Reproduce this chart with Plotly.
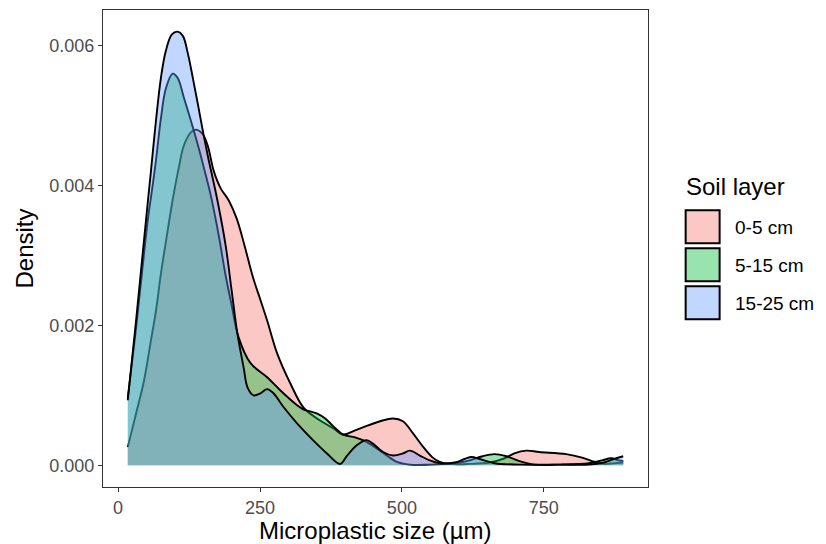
import plotly.graph_objects as go

# ---------------- data ----------------
layers = ["0-5 cm", "5-15 cm", "15-25 cm"]

size_0_5 = [17, 31.6, 45.6, 57.9, 66.7, 75.4, 86.0, 96.0, 107.0, 115.8, 128.1, 136.8,
            148.6, 157.9, 168.4, 180.7, 194.7, 208.8, 222.8, 236.8, 250.9, 262.6, 280.2,
            303.5, 326.3, 350.4, 378.9, 396.5, 417.5, 440.4, 461.4, 484.2, 501.8, 519.3,
            536.8, 554.4, 566.7, 584.2, 619.3, 654.4, 680.7, 698.2, 719.3, 742.1, 789.5,
            817.5, 835.1, 856.1, 873.7, 890]
dens_0_5 = [0.26, 0.74, 1.21, 1.79, 2.21, 2.74, 3.29, 3.79, 4.26, 4.57, 4.76, 4.80,
            4.74, 4.57, 4.21, 3.96, 3.79, 3.53, 3.14, 2.71, 2.36, 2.07, 1.60,
            1.17, 0.83, 0.67, 0.53, 0.44, 0.50, 0.57, 0.63, 0.67, 0.63, 0.46,
            0.27, 0.11, 0.05, 0.02, 0.02, 0.04, 0.10, 0.17, 0.21, 0.19, 0.16,
            0.11, 0.06, 0.02, 0.03, 0.04]

size_5_15 = [17, 31.6, 42.1, 52.6, 59.6, 66.7, 75.4, 84.2, 96.0, 104.7, 115.8, 128.1,
             139.8, 150.9, 163.2, 177.2, 189.5, 200.0, 212.3, 233.3, 262.6, 286.0, 315.3,
             326.3, 338.6, 350.9, 364.9, 378.9, 396.5, 417.5, 436.8, 452.6, 470.2, 491.2,
             514.0, 549.1, 575.4, 601.8, 619.3, 642.1, 663.2, 684.2, 707.0, 733.3, 777.2,
             829.8, 852.6, 868.4, 882.5, 890]
dens_5_15 = [0.96, 1.96, 2.76, 3.53, 3.93, 4.36, 4.96, 5.39, 5.60, 5.54, 5.26, 4.93,
             4.60, 4.26, 3.86, 3.29, 2.71, 2.29, 1.83, 1.46, 1.26, 1.07, 0.86,
             0.80, 0.77, 0.74, 0.67, 0.56, 0.44, 0.40, 0.34, 0.26, 0.16, 0.05,
             0.01, 0.01, 0.02, 0.04, 0.07, 0.13, 0.16, 0.13, 0.06, 0.01, 0.01,
             0.03, 0.07, 0.10, 0.07, 0.06]

size_15_25 = [17, 31.6, 42.1, 52.6, 57.9, 66.7, 75.4, 84.2, 94.7, 104.7, 114.0, 122.8,
              131.6, 140.4, 149.1, 157.9, 174.9, 189.5, 200.0, 210.0, 221.1, 228.1, 238.6,
              250.9, 262.6, 273.7, 291.8, 315.3, 338.6, 367.9, 391.2, 403.5, 421.1, 438.1,
              449.1, 466.7, 484.2, 501.8, 514.0, 531.6, 549.1, 566.7, 593.0, 610.5, 622.8,
              636.8, 663.2, 707.0, 777.2, 829.8, 856.1, 873.7, 890]
dens_15_25 = [0.93, 2.07, 2.93, 3.79, 4.21, 4.93, 5.54, 5.93, 6.16, 6.20, 6.14, 5.89,
              5.54, 5.17, 4.79, 4.43, 3.79, 3.14, 2.50, 1.89, 1.40, 1.11, 1.00,
              1.03, 1.09, 1.03, 0.83, 0.60, 0.40, 0.17, 0.02, 0.14, 0.29, 0.36,
              0.31, 0.19, 0.14, 0.17, 0.21, 0.14, 0.07, 0.03, 0.04, 0.09, 0.12,
              0.09, 0.03, 0.01, 0.01, 0.01, 0.04, 0.09, 0.13]

x_ticks = [0, 250, 500, 750]
y_ticks = [0.000, 0.002, 0.004, 0.006]
y_tick_labels = ["0.000", "0.002", "0.004", "0.006"]
x_title = "Microplastic size (µm)"
y_title = "Density"
legend_title = "Soil layer"

# ---------------- styling ----------------
fills = ["rgba(248,118,109,0.4)", "rgba(0,186,56,0.4)", "rgba(97,156,255,0.4)"]
FONT = "Liberation Sans, Arial, sans-serif"
W, H = 826, 544
PL, PR, PT, PB = 102.7, 648.3, 10.0, 486.7   # panel edges in pixels
SMALL, TICK, BIG = 19, 18, 24

series = [(size_0_5, dens_0_5), (size_5_15, dens_5_15), (size_15_25, dens_15_25)]

fig = go.Figure()
for name, (xs, ds), fc in zip(layers, series, fills):
    fig.add_trace(go.Scatter(
        x=xs, y=[d / 1000 for d in ds], name=name, mode="lines",
        line=dict(color="black", width=1.9, shape="spline", smoothing=1.0),
        fill="tozeroy", fillcolor=fc, showlegend=False, hoverinfo="skip"))

def px_x(p):
    return (p - PL) / (PR - PL)

def px_y(p):
    return (PB - p) / (PB - PT)

# manual legend (ggplot style) and x-axis title
shapes = []
annotations = [
    dict(text=legend_title, x=px_x(684), y=px_y(186), xref="paper", yref="paper",
         xanchor="left", yanchor="middle", showarrow=False,
         font=dict(family=FONT, size=BIG, color="black")),
    dict(text=x_title, x=0.5, y=px_y(530), xref="paper", yref="paper",
         xanchor="center", yanchor="middle", showarrow=False,
         font=dict(family=FONT, size=BIG, color="black")),
]
key_tops = [210, 248, 286]
for name, fc, top in zip(layers, fills, key_tops):
    shapes.append(dict(type="rect", xref="paper", yref="paper",
                       x0=px_x(686), x1=px_x(720), y0=px_y(top + 33), y1=px_y(top),
                       fillcolor=fc, line=dict(color="black", width=2)))
    annotations.append(dict(text=name, x=px_x(733), y=px_y(top + 17), xref="paper", yref="paper",
                            xanchor="left", yanchor="middle", showarrow=False,
                            font=dict(family=FONT, size=SMALL, color="black")))

fig.update_layout(
    width=W, height=H,
    margin=dict(l=PL, r=W - PR, t=PT, b=H - PB, autoexpand=False),
    paper_bgcolor="white", plot_bgcolor="white",
    font=dict(family=FONT),
    shapes=shapes, annotations=annotations,
    xaxis=dict(range=[-26.65, 933.65], tickvals=x_ticks, showgrid=False, zeroline=False,
               showline=True, mirror=True, linecolor="#333333", linewidth=1.1,
               ticks="outside", ticklen=4, tickwidth=1.1, tickcolor="#333333",
               tickfont=dict(family=FONT, size=TICK, color="#4D4D4D")),
    yaxis=dict(range=[-0.00031, 0.00651], tickvals=y_ticks, ticktext=y_tick_labels,
               showgrid=False, zeroline=False,
               showline=True, mirror=True, linecolor="#333333", linewidth=1.1,
               ticks="outside", ticklen=4, tickwidth=1.1, tickcolor="#333333",
               tickfont=dict(family=FONT, size=TICK, color="#4D4D4D"),
               title=dict(text=y_title, standoff=8,
                          font=dict(family=FONT, size=BIG, color="black"))),
)

fig.write_html("out.html")
